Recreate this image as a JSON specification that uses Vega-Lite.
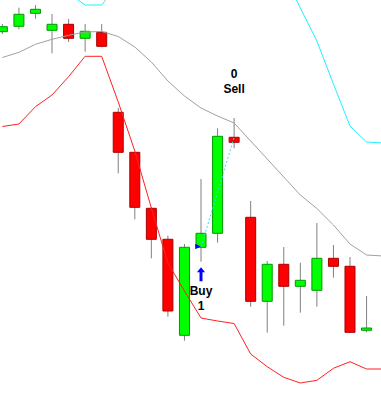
{
  "$schema": "https://vega.github.io/schema/vega-lite/v6.json",
  "width": 381,
  "height": 399,
  "padding": 0,
  "autosize": "none",
  "background": "white",
  "config": {"view": {"stroke": null}},
  "datasets": {
    "candles": [
      {"i": 0, "o": 368.3, "h": 376, "l": 366, "c": 373.3},
      {"i": 1, "o": 373.7, "h": 392.3, "l": 370.7, "c": 385.7},
      {"i": 2, "o": 386.7, "h": 395, "l": 381.3, "c": 390.7},
      {"i": 3, "o": 369.7, "h": 386, "l": 346.7, "c": 375.7},
      {"i": 4, "o": 375.7, "h": 381, "l": 358, "c": 361.7},
      {"i": 5, "o": 361.7, "h": 376, "l": 348.3, "c": 368.7},
      {"i": 6, "o": 367.7, "h": 376, "l": 352.7, "c": 353.7},
      {"i": 7, "o": 287.7, "h": 292, "l": 226.7, "c": 247.7},
      {"i": 8, "o": 247.7, "h": 248, "l": 180.7, "c": 192.7},
      {"i": 9, "o": 191.7, "h": 193, "l": 141.7, "c": 160.7},
      {"i": 10, "o": 160.7, "h": 164.3, "l": 83.3, "c": 89},
      {"i": 11, "o": 64.7, "h": 156, "l": 59.3, "c": 152.7},
      {"i": 12, "o": 152.7, "h": 221, "l": 138.3, "c": 166.7},
      {"i": 13, "o": 166.7, "h": 271.7, "l": 157.3, "c": 263.7},
      {"i": 14, "o": 262.7, "h": 282, "l": 251.7, "c": 257.7},
      {"i": 15, "o": 182.7, "h": 199, "l": 93.3, "c": 98.7},
      {"i": 16, "o": 98.7, "h": 139, "l": 67.3, "c": 135.7},
      {"i": 17, "o": 135.7, "h": 153, "l": 74.3, "c": 113.7},
      {"i": 18, "o": 113.7, "h": 137.3, "l": 87.3, "c": 119.7},
      {"i": 19, "o": 109.7, "h": 177, "l": 93.3, "c": 141.7},
      {"i": 20, "o": 141.7, "h": 155, "l": 122.3, "c": 133.7},
      {"i": 21, "o": 133.7, "h": 143, "l": 66.7, "c": 67.7},
      {"i": 22, "o": 69.7, "h": 104, "l": 67.7, "c": 72}
    ],
    "bands": [
      {"i": 0, "mid": 342.5, "lo": 273.5, "up": 440},
      {"i": 1, "mid": 347.7, "lo": 276, "up": 445},
      {"i": 2, "mid": 355.7, "lo": 293.3, "up": 440},
      {"i": 3, "mid": 360.7, "lo": 305, "up": 425},
      {"i": 4, "mid": 364.7, "lo": 323.3, "up": 406.6},
      {"i": 5, "mid": 368, "lo": 343.7, "up": 395},
      {"i": 6, "mid": 368.5, "lo": 343.7, "up": 395},
      {"i": 7, "mid": 363.5, "lo": 298, "up": 416},
      {"i": 8, "mid": 353, "lo": 249, "up": 440},
      {"i": 9, "mid": 338, "lo": 192, "up": 460},
      {"i": 10, "mid": 319, "lo": 137, "up": 480},
      {"i": 11, "mid": 304, "lo": 109, "up": 490},
      {"i": 12, "mid": 292, "lo": 82, "up": 495},
      {"i": 13, "mid": 284, "lo": 79, "up": 490},
      {"i": 14, "mid": 277, "lo": 76.5, "up": 480},
      {"i": 15, "mid": 259, "lo": 46, "up": 470},
      {"i": 16, "mid": 241, "lo": 33.3, "up": 450},
      {"i": 17, "mid": 223, "lo": 22.7, "up": 426},
      {"i": 18, "mid": 205, "lo": 17, "up": 392},
      {"i": 19, "mid": 191.5, "lo": 19.7, "up": 359},
      {"i": 20, "mid": 175, "lo": 31.7, "up": 316},
      {"i": 21, "mid": 156, "lo": 38.3, "up": 274},
      {"i": 22, "mid": 145, "lo": 31, "up": 258},
      {"i": 23, "mid": 144, "lo": 31, "up": 257}
    ],
    "trade": [
      {"i": 12, "p": 153},
      {"i": 14, "p": 262.5}
    ],
    "labels": [
      {"i": 12, "p": 105, "t": "Buy"},
      {"i": 12, "p": 90, "t": "1"},
      {"i": 14, "p": 322.3, "t": "0"},
      {"i": 14, "p": 307.3, "t": "Sell"}
    ]
  },
  "encoding": {
    "x": {"field": "i", "type": "quantitative", "axis": null, "scale": {"domain": [0.159, 22.571], "nice": false, "zero": false}}
  },
  "layer": [
    {
      "data": {"name": "candles"},
      "mark": {"type": "rule", "color": "#808080", "strokeWidth": 1, "clip": true},
      "encoding": {
        "y": {"field": "l", "type": "quantitative", "axis": null, "scale": {"domain": [1, 400], "nice": false, "zero": false}},
        "y2": {"field": "h"}
      }
    },
    {
      "data": {"name": "candles"},
      "transform": [{"calculate": "datum.c >= datum.o ? 'up' : 'down'", "as": "dir"}],
      "mark": {"type": "bar", "size": 10, "strokeWidth": 1, "clip": true},
      "encoding": {
        "y": {"field": "o", "type": "quantitative"},
        "y2": {"field": "c"},
        "fill": {"field": "dir", "type": "nominal", "legend": null, "scale": {"domain": ["up", "down"], "range": ["#00ff00", "#ff0000"]}},
        "stroke": {"field": "dir", "type": "nominal", "legend": null, "scale": {"domain": ["up", "down"], "range": ["#009a00", "#a80000"]}},
        "fillOpacity": {"value": 1}
      }
    },
    {
      "data": {"name": "bands"},
      "mark": {"type": "line", "color": "#a0a0a0", "strokeWidth": 1, "clip": true},
      "encoding": {"y": {"field": "mid", "type": "quantitative"}}
    },
    {
      "data": {"name": "bands"},
      "mark": {"type": "line", "color": "#ff2020", "strokeWidth": 1, "clip": true},
      "encoding": {"y": {"field": "lo", "type": "quantitative"}}
    },
    {
      "data": {"name": "bands"},
      "mark": {"type": "line", "color": "#20f0ff", "strokeWidth": 1, "clip": true},
      "encoding": {"y": {"field": "up", "type": "quantitative"}}
    },
    {
      "data": {"name": "trade"},
      "mark": {"type": "line", "color": "#30e0ff", "strokeWidth": 1, "strokeDash": [2, 2], "clip": true},
      "encoding": {"y": {"field": "p", "type": "quantitative"}}
    },
    {
      "data": {"values": [{"i": 12, "p": 153.5}]},
      "mark": {"type": "point", "shape": "M-1,-1L1,0L-1,1Z", "size": 30, "filled": true, "color": "#0000ff", "opacity": 1, "xOffset": -3},
      "encoding": {"y": {"field": "p", "type": "quantitative"}}
    },
    {
      "data": {"values": [{"i": 14, "p": 261}]},
      "mark": {"type": "point", "shape": "M-1,-1L1,0L-1,1Z", "size": 16, "filled": true, "color": "#ff0000", "opacity": 1, "xOffset": -3},
      "encoding": {"y": {"field": "p", "type": "quantitative"}}
    },
    {
      "data": {"values": [{"i": 12, "p": 125.7}]},
      "mark": {"type": "point", "shape": "M0,-1L0.58,-0.3L0.21,-0.3L0.21,1L-0.21,1L-0.21,-0.3L-0.58,-0.3Z", "size": 196, "filled": true, "color": "#0000ff", "opacity": 1},
      "encoding": {"y": {"field": "p", "type": "quantitative"}}
    },
    {
      "data": {"name": "labels"},
      "mark": {"type": "text", "font": "Liberation Sans", "fontWeight": "bold", "fontSize": 12, "color": "#000000", "baseline": "alphabetic", "align": "center"},
      "encoding": {
        "y": {"field": "p", "type": "quantitative"},
        "text": {"field": "t", "type": "nominal"}
      }
    }
  ]
}
